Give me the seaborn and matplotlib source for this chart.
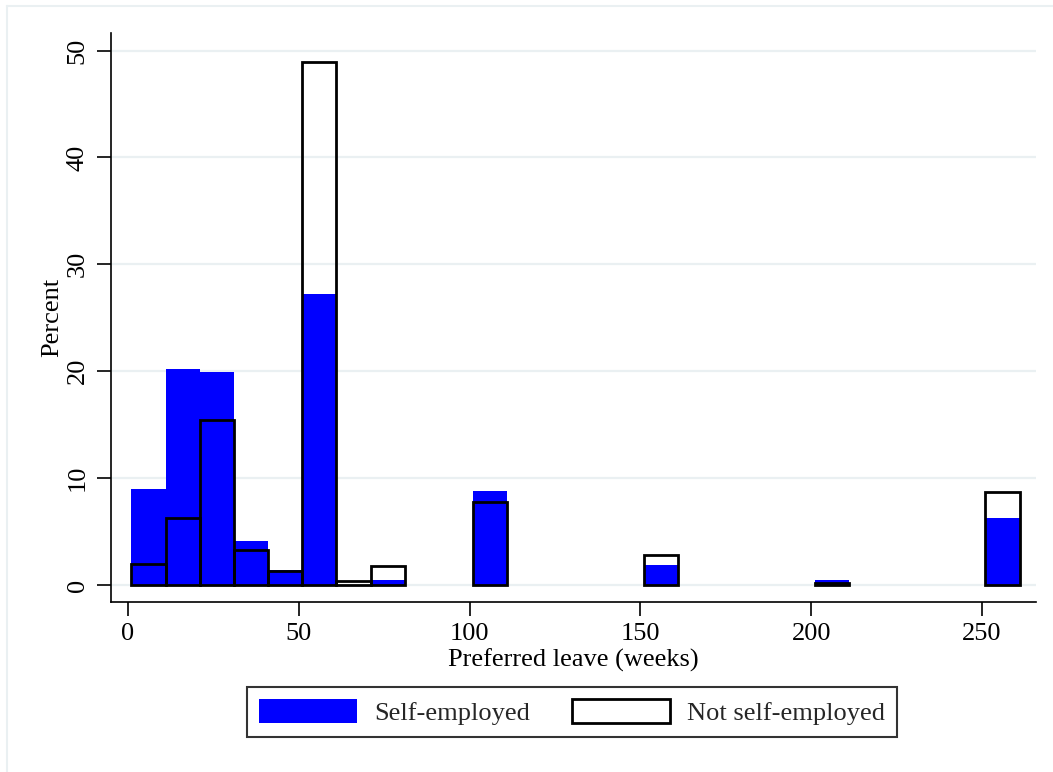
import numpy as np
import pandas as pd
import matplotlib
matplotlib.use("Agg")
import matplotlib.pyplot as plt
from matplotlib.patches import Patch
from matplotlib.lines import Line2D
import seaborn as sns

# ---- data (percent per 10-week bin, bins start at 1) ----
bin_edges = list(range(1, 262, 10))          # 1, 11, ..., 261
self_employed = [9.0, 20.2, 19.9, 4.1, 1.4, 27.2, 0.0, 0.5, 0.0, 0.0,
                 8.8, 0.0, 0.0, 0.0, 0.0, 1.9, 0.0, 0.0, 0.0, 0.0,
                 0.45, 0.0, 0.0, 0.0, 0.0, 6.3]
not_self_employed = [2.0, 6.25, 15.4, 3.3, 1.3, 48.9, 0.35, 1.8, 0.0, 0.0,
                     7.8, 0.0, 0.0, 0.0, 0.0, 2.8, 0.0, 0.0, 0.0, 0.0,
                     0.2, 0.0, 0.0, 0.0, 0.0, 8.7]
series_labels = ["Self-employed", "Not self-employed"]
x_ticks = [0, 50, 100, 150, 200, 250]
y_ticks = [0, 10, 20, 30, 40, 50]

centers = [(a + b) / 2 for a, b in zip(bin_edges[:-1], bin_edges[1:])]
df_se = pd.DataFrame({"weeks": centers, "pct": self_employed})
df_ne = pd.DataFrame({"weeks": centers, "pct": not_self_employed})

sns.set_theme(style="white")
plt.rcParams["font.family"] = ["Liberation Serif", "DejaVu Serif"]
FS = 19
plt.rcParams["font.size"] = FS

W, H = 1053, 772
fig = plt.figure(figsize=(W / 100, H / 100), dpi=100)
ax = fig.add_axes([111 / W, 1 - 602 / H, (1036 - 111) / W, (602 - 33) / H])

grid_c = "#eaf0f2"
for yt in y_ticks:
    ax.axhline(yt, color=grid_c, lw=1.6, zorder=0)

blue = "#0000ff"
sns.histplot(data=df_se, x="weeks", weights="pct", bins=bin_edges, ax=ax,
             stat="count", color=blue, alpha=1, edgecolor="none", linewidth=0,
             element="bars", zorder=2)
sns.histplot(data=df_ne, x="weeks", weights="pct", bins=bin_edges, ax=ax,
             stat="count", fill=False, color="black", edgecolor="black", linewidth=2.0,
             element="bars", zorder=3)
for p in ax.patches:
    if p.get_height() <= 0:
        p.set_visible(False)

ax.set_xlim(-4.98, 265.8)
ax.set_ylim(-1.59, 51.64)
ax.set_xticks(x_ticks)
ax.set_yticks(y_ticks)
ax.set_xticklabels([str(v) for v in x_ticks], fontsize=FS)
ax.set_yticklabels([str(v) for v in y_ticks], fontsize=FS, rotation=90, va="center")
ax.tick_params(axis="both", direction="out", length=10, width=1.2, color="black",
               labelcolor="black", bottom=True, left=True)
ax.tick_params(axis="x", pad=5)
ax.tick_params(axis="y", pad=6)

for side in ["top", "right"]:
    ax.spines[side].set_visible(False)
for side in ["left", "bottom"]:
    ax.spines[side].set_color("black")
    ax.spines[side].set_linewidth(1.2)

ax.set_xlabel("Preferred leave (weeks)", fontsize=FS, color="black", labelpad=0)
ax.set_ylabel("Percent", fontsize=FS, color="black")
ax.xaxis.set_label_coords(0.5, -(660 - 602) / (602 - 33))
ax.yaxis.set_label_coords(-(111 - 52) / (1036 - 111), 0.5)
ax.xaxis.label.set_va("center")
ax.yaxis.label.set_va("center")

handles = [Patch(facecolor=blue, edgecolor="none", label=series_labels[0]),
           Patch(facecolor="white", edgecolor="black", linewidth=2.0, label=series_labels[1])]
leg = fig.legend(handles=handles, loc="center", ncol=2,
                 bbox_to_anchor=(572 / W, 1 - 712 / H), frameon=True,
                 fancybox=False, edgecolor="black", fontsize=FS,
                 handlelength=3.7, handleheight=1.05, handletextpad=0.65,
                 columnspacing=1.6, borderpad=0.45)
leg.get_frame().set_linewidth(1.5)

# light outer border of the graph region
fig.add_artist(Line2D([7 / W, 1.0], [1 - 6 / H, 1 - 6 / H], transform=fig.transFigure,
                      color=grid_c, lw=1.5))
fig.add_artist(Line2D([7 / W, 7 / W], [0, 1 - 6 / H], transform=fig.transFigure,
                      color=grid_c, lw=1.5))

fig.savefig("out.png", dpi=100)
